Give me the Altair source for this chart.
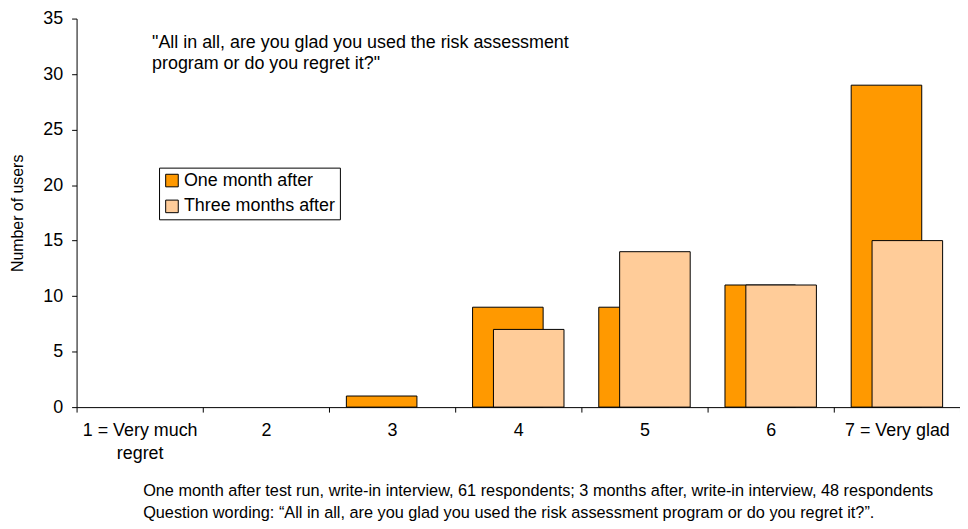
import altair as alt
import pandas as pd

categories = ["1 = Very much\nregret", "2", "3", "4", "5", "6", "7 = Very glad"]
one_month = [0, 0, 1, 9, 9, 11, 29]
three_months = [0, 0, 0, 7, 14, 11, 15]
series_names = ["One month after", "Three months after"]
colors = ["#FF9900", "#FFCC99"]
question_lines = ["\"All in all, are you glad you used the risk assessment",
                  "program or do you regret it?\""]
footnotes = ["One month after test run, write-in interview, 61 respondents; 3 months after, write-in interview, 48 respondents",
             "Question wording: \u201cAll in all, are you glad you used the risk assessment program or do you regret it?\u201d."]

df1 = pd.DataFrame({"cat": categories, "value": one_month, "series": series_names[0]})
df3 = pd.DataFrame({"cat": categories, "value": three_months, "series": series_names[1]})

FONT = "Liberation Sans"

x_enc = alt.X("cat:N", sort=categories,
              scale=alt.Scale(domain=categories, paddingInner=0, paddingOuter=0),
              axis=alt.Axis(title=None, labelAngle=0, tickBand="extent", tickSize=5,
                            labelPadding=10, labelFontSize=18, labelFont=FONT,
                            labelColor="black", domainColor="black", tickColor="black",
                            labelExpr="split(datum.label, '\\n')", labelLineHeight=23))
y_enc = alt.Y("value:Q", scale=alt.Scale(domain=[0, 35], nice=False),
              axis=alt.Axis(title="Number of users", values=list(range(0, 36, 5)),
                            grid=False, tickSize=5, labelFontSize=18, labelFont=FONT,
                            labelColor="black", domainColor="black", tickColor="black",
                            titleFont=FONT, titleFontSize=16, titleFontWeight="normal",
                            titleColor="black", titleX=-59, titleBaseline="middle",
                            labelPadding=9))
color_enc = alt.Color("series:N",
                      scale=alt.Scale(domain=series_names, range=colors),
                      legend=alt.Legend(title=None, orient="none", legendX=83, legendY=150,
                                        symbolType="square", symbolSize=160,
                                        symbolStrokeColor="black", symbolStrokeWidth=1,
                                        labelFontSize=18, labelFont=FONT, labelColor="black",
                                        strokeColor="black", padding=4, rowPadding=8,
                                        fillColor="white", symbolOpacity=1,
                                        labelOffset=3))

bars1 = alt.Chart(df1).transform_filter("datum.value > 0").mark_bar(
    size=71, xOffset=-10.5, stroke="black", strokeWidth=1, opacity=1
).encode(x=x_enc, y=y_enc, color=color_enc)

bars3 = alt.Chart(df3).transform_filter("datum.value > 0").mark_bar(
    size=71, xOffset=10.5, stroke="black", strokeWidth=1, opacity=1
).encode(x=x_enc, y=y_enc, color=color_enc)


def text_layer(t, x, y, size):
    return alt.Chart(pd.DataFrame({"t": [t]})).mark_text(
        align="left", baseline="middle", fontSize=size, font=FONT, color="black"
    ).encode(x=alt.value(x), y=alt.value(y), text="t:N")


note1 = text_layer(question_lines[0], 76, 25, 18)
note2 = text_layer(question_lines[1], 76, 46, 18)
foot1 = text_layer(footnotes[0], 67, 475, 16.4)
foot2 = text_layer(footnotes[1], 67, 498, 16.4)

chart = alt.layer(bars1, bars3, note1, note2, foot1, foot2).properties(
    width=889, height=391,
    autosize=alt.AutoSizeParams(type="none"),
    padding={"left": 69, "top": 9, "right": 0, "bottom": 120},
    background="white",
).configure_view(stroke=None)

chart.save("out.html", embed_options={"renderer": "svg", "actions": False})
